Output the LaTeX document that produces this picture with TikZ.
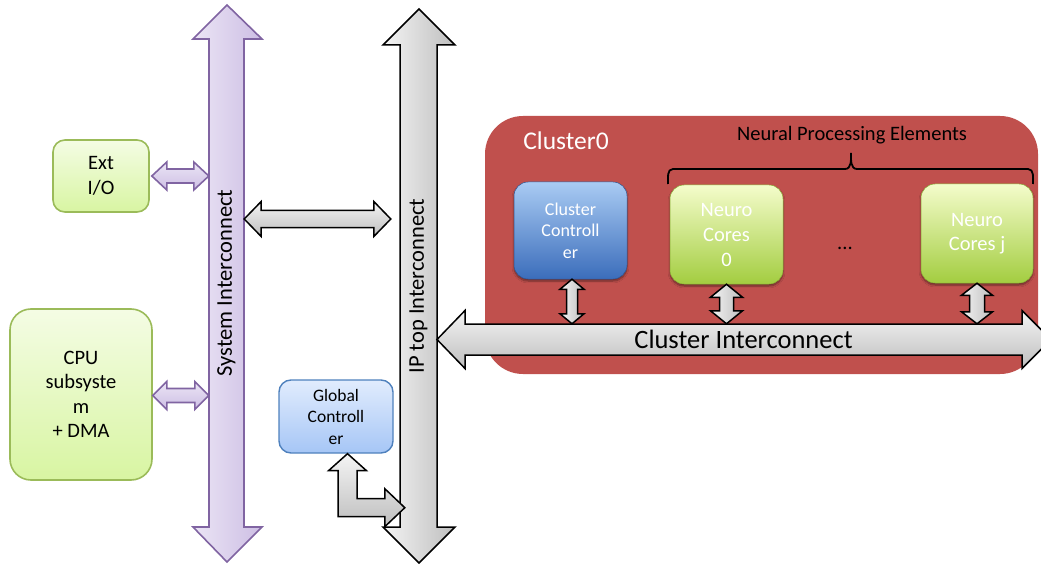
\documentclass[tikz,border=0pt]{standalone}
\usepackage{fontspec}
\setmainfont{Carlito}
\usetikzlibrary{calc,shadows.blur}

\definecolor{purpleedge}{HTML}{8064A2}
\definecolor{purplelight}{HTML}{EBE5F5}
\definecolor{purpledark}{HTML}{CDBEE4}
\definecolor{graylight}{HTML}{F4F4F4}
\definecolor{graydark}{HTML}{BEBEBE}
\definecolor{greenedge}{HTML}{9BBB59}
\definecolor{greentop}{HTML}{F4FCE4}
\definecolor{greenbot}{HTML}{D8F5A2}
\definecolor{blueedge}{HTML}{4F81BD}
\definecolor{bluetop}{HTML}{E1ECFD}
\definecolor{bluebot}{HTML}{A6C6F6}
\definecolor{clusterred}{HTML}{C0504D}
\definecolor{ccTop}{HTML}{A9CBF3}
\definecolor{ccMid}{HTML}{6599DE}
\definecolor{ccBot}{HTML}{3B6DBB}
\definecolor{ncTop}{HTML}{F4FCCB}
\definecolor{ncMid}{HTML}{D0EC80}
\definecolor{ncBot}{HTML}{A3CD40}

% horizontal block arrow with two heads: style, left end, right end,
% half shaft width, half head width, head length
\newcommand{\BusLinkH}[6]{%
  \path[#1] let \p1=(#2), \p2=(#3) in
    (\x1,\y1) -- (\x1+#6,\y1+#5) -- (\x1+#6,\y1+#4) -- (\x2-#6,\y1+#4)
    -- (\x2-#6,\y1+#5) -- (\x2,\y1) -- (\x2-#6,\y1-#5) -- (\x2-#6,\y1-#4)
    -- (\x1+#6,\y1-#4) -- (\x1+#6,\y1-#5) -- cycle;}
% vertical block arrow with two heads: style, top end, bottom end, ...
\newcommand{\BusLinkV}[6]{%
  \path[#1] let \p1=(#2), \p2=(#3) in
    (\x1,\y1) -- (\x1+#5,\y1-#6) -- (\x1+#4,\y1-#6) -- (\x1+#4,\y2+#6)
    -- (\x1+#5,\y2+#6) -- (\x1,\y2) -- (\x1-#5,\y2+#6) -- (\x1-#4,\y2+#6)
    -- (\x1-#4,\y1-#6) -- (\x1-#5,\y1-#6) -- cycle;}

\tikzset{
  purplebus/.style={draw=purpleedge, line width=1.6pt, line join=miter,
    left color=purplelight, right color=purpledark},
  purplelink/.style={draw=purpleedge, line width=1.6pt, line join=miter,
    top color=purplelight, bottom color=purpledark},
  graybusv/.style={draw=black, line width=1.5pt, line join=miter,
    left color=graylight, right color=graydark},
  graybush/.style={draw=black, line width=1.5pt, line join=miter,
    top color=graylight, bottom color=graydark},
  greenbox/.style={draw=greenedge, line width=1.6pt, top color=greentop,
    bottom color=greenbot, align=center, text=black},
  bluebox/.style={draw=blueedge, line width=1.4pt, top color=bluetop,
    bottom color=bluebot, align=center, text=black},
  glossblue/.style={draw=ccBot!80!black, line width=0.5pt, rounded corners=14pt,
    top color=ccTop, middle color=ccMid, bottom color=ccBot,
    blur shadow={shadow xshift=0pt, shadow yshift=-2pt, shadow blur steps=6,
      shadow opacity=45},
    align=center, text=white},
  glossgreen/.style={draw=ncBot!85!black, line width=0.5pt, rounded corners=14pt,
    top color=ncTop, middle color=ncMid, bottom color=ncBot,
    blur shadow={shadow xshift=0pt, shadow yshift=-2pt, shadow blur steps=6,
      shadow opacity=45},
    align=center, text=white},
  bustext/.style={inner sep=0pt, align=center},
  fbig/.style={font=\fontsize{20.5}{24.5}\selectfont},
  fmid/.style={font=\fontsize{17.5}{21.5}\selectfont},
  fbus/.style={font=\fontsize{22.5}{27}\selectfont},
}

\begin{document}
\begin{tikzpicture}[x=1pt, y=-1pt]
\useasboundingbox (0,0) rectangle (1041,564);
\clip (0,0) rectangle (1041,564);

% cluster background
\node[fill=clusterred, rounded corners=38pt, minimum width=553pt,
  minimum height=258pt, inner sep=0pt] (cluster) at (761.5,245) {};
\node[font=\fontsize{25.5}{30}\selectfont, text=white] (cname) at (566,141) {Cluster0};
\node[fbig, text=black] (npe) at (852,135) {Neural Processing Elements};

% brace over the processing elements
\draw[line width=1.8pt] (668,184) to[out=90,in=180] (673,169) -- (845,169)
  to[out=0,in=-90] (851,153) to[out=-90,in=180] (857,169) -- (1028,169)
  to[out=0,in=90] (1033,184);

% system interconnect bus
\path[purplebus] (227,5) -- (262,39) -- (244,39) -- (244,527) -- (262,527)
  -- (227,562) -- (193,527) -- (209,527) -- (209,39) -- (193,39) -- cycle;
\node[bustext, fbus, minimum width=35pt, minimum height=488pt] (sys)
  at (226.5,283) {\rotatebox{90}{System Interconnect}};

% IP top interconnect bus
\path[graybusv] (419,9) -- (455,45) -- (437,45) -- (437,527) -- (455,527)
  -- (419,563) -- (383,527) -- (400,527) -- (400,45) -- (383,45) -- cycle;
\node[bustext, fbus, minimum width=37pt, minimum height=482pt] (ip)
  at (418.5,286) {\rotatebox{90}{IP top Interconnect}};

% cluster interconnect bus
\path[graybush] (437,339.5) -- (465,310.5) -- (465,324) -- (1022,324)
  -- (1022,310.5) -- (1051,339.5) -- (1022,368.5) -- (1022,355) -- (465,355)
  -- (465,368.5) -- cycle;
\node[bustext, font=\fontsize{26.5}{31}\selectfont, minimum width=557pt,
  minimum height=31pt] (clbus) at (743.5,339.5) {Cluster Interconnect};

% blocks outside the cluster
\node[greenbox, fbig, rounded corners=12pt, minimum width=96pt,
  minimum height=72pt] (ext) at (101,176) {Ext\\I/O};
\node[greenbox, fbig, rounded corners=21pt, minimum width=142pt,
  minimum height=171pt] (cpu) at (81,394.5) {CPU\\subsyste\\m\\+ DMA};
\node[bluebox, fmid, rounded corners=12pt, minimum width=114pt,
  minimum height=73pt] (gc) at (336,416.5) {Global\\Controll\\er};

% blocks inside the cluster
\node[glossblue, font=\fontsize{18}{21.5}\selectfont, minimum width=113pt,
  minimum height=97pt] (cc) at (570.5,230.5) {Cluster\\Controll\\er};
\node[glossgreen, font=\fontsize{20.5}{25}\selectfont, minimum width=113pt,
  minimum height=99pt] (nc0) at (726.5,234.5) {Neuro\\Cores\\0};
\node[glossgreen, font=\fontsize{20.5}{24}\selectfont, minimum width=112pt,
  minimum height=99pt] (ncj) at (977,233.5) {Neuro\\Cores j};
\node[fbig, text=black] (dots) at (845,248) {...};

% links to the system interconnect
\BusLinkH{purplelink}{[xshift=2pt]ext.east}{ext.east -| sys.west}{7pt}{14pt}{15pt}
\BusLinkH{purplelink}{[yshift=-1pt]cpu.east}{cpu.east -| sys.west}{7pt}{14pt}{14pt}
% system interconnect to IP top interconnect
\BusLinkH{graybush}{[yshift=64pt]sys.east}{[xshift=-9pt]ip.west}{8.5pt}{17.5pt}{17pt}

% global controller to IP top interconnect (elbow)
\path[graybush] let \p1=([xshift=11.5pt]gc.south), \p2=([xshift=5pt]ip.west) in
  (\x1,\y1) -- (\x1+19pt,\y1-17pt) -- (\x1+9.5pt,\y1-17pt) -- (\x1+9.5pt,\y1-45pt)
  -- (\x2-20pt,\y1-45pt) -- (\x2-20pt,\y1-35pt) -- (\x2,\y1-54pt)
  -- (\x2-20pt,\y1-73pt) -- (\x2-20pt,\y1-63pt) -- (\x1-9.5pt,\y1-63pt)
  -- (\x1-9.5pt,\y1-17pt) -- (\x1-19pt,\y1-17pt) -- cycle;

% cluster blocks to cluster interconnect
\BusLinkV{graybusv}{[xshift=1.5pt]cc.south}{[xshift=1.5pt]cc.south |- clbus.north}{5.5pt}{12pt}{10pt}
\BusLinkV{graybusv}{nc0.south}{nc0.south |- clbus.north}{7pt}{16pt}{13pt}
\BusLinkV{graybusv}{ncj.south}{ncj.south |- clbus.north}{7.5pt}{15.5pt}{12pt}
\end{tikzpicture}
\end{document}
